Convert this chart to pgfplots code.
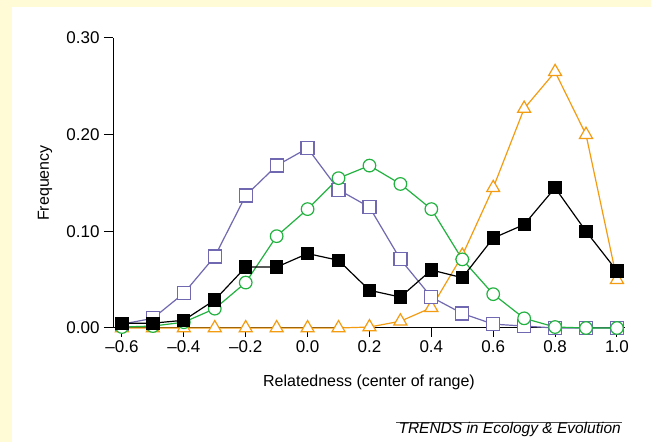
\documentclass[border=0pt]{standalone}
\usepackage{pgfplots}
\pgfplotsset{compat=1.18}
\usepackage{fontspec}
\setmainfont{Liberation Sans}
\definecolor{cream}{RGB}{255,251,214}
\definecolor{cpurple}{RGB}{112,104,176}
\definecolor{cgreen}{RGB}{34,178,64}
\definecolor{corange}{RGB}{243,156,18}
\begin{document}
\begin{tikzpicture}[x=1pt,y=1pt]
\useasboundingbox (0,0) rectangle (651,442);
\fill[white] (0,0) rectangle (651,442);
\fill[cream] (0,0) rectangle (12,442);
\fill[cream] (0,435) rectangle (651,442);
\begin{axis}[
  at={(113pt,114pt)}, anchor=south west,
  scale only axis, width=512pt, height=290pt,
  xmin=-0.629, xmax=1.026, ymin=0, ymax=0.30,
  axis lines=left, axis line style={-, line width=1pt, black},
  tick align=outside, major tick length=9pt,
  tick style={black, line width=1pt},
  xtick={-0.6,-0.4,-0.2,0,0.2,0.4,0.6,0.8,1.0},
  xticklabels={–0.6,–0.4,–0.2,0.0,0.2,0.4,0.6,0.8,1.0},
  ytick={0,0.1,0.2,0.3},
  yticklabels={0.00,0.10,0.20,0.30},
  tick label style={font=\fontsize{17}{20}\selectfont},
  yticklabel style={xshift=-1pt},
  label style={font=\fontsize{16}{19}\selectfont},
  xlabel={Relatedness (center of range)},
  ylabel={Frequency},
  xlabel style={at={(axis description cs:0.5,-0.1862)}, anchor=center},
  ylabel style={at={(axis description cs:-0.1328,0.5)}, anchor=center},
  clip=false,
]
\addplot[corange, line width=1.2pt, mark=triangle*, mark size=7.5pt,
  mark options={fill=white, line width=1.2pt}] coordinates {
(-0.6,0) (-0.5,0) (-0.4,0) (-0.3,0) (-0.2,0) (-0.1,0) (0.0,0) (0.1,0)
(0.2,0.001) (0.3,0.007) (0.4,0.021) (0.5,0.075) (0.6,0.145) (0.7,0.227)
(0.8,0.265) (0.9,0.200) (1.0,0.050)};
\addplot[cpurple, line width=1.2pt, mark=square*, mark size=6.5pt,
  mark options={fill=white, line width=1.2pt}] coordinates {
(-0.6,0.004) (-0.5,0.010) (-0.4,0.036) (-0.3,0.074) (-0.2,0.137) (-0.1,0.168)
(0.0,0.186) (0.1,0.143) (0.2,0.125) (0.3,0.071) (0.4,0.032) (0.5,0.015)
(0.6,0.004) (0.7,0.002) (0.8,0) (0.9,0) (1.0,0)};
\addplot[cgreen, line width=1.2pt, mark=*, mark size=6.3pt,
  mark options={fill=white, line width=1.2pt}] coordinates {
(-0.6,0.001) (-0.5,0.002) (-0.4,0.006) (-0.3,0.020) (-0.2,0.047) (-0.1,0.095)
(0.0,0.123) (0.1,0.155) (0.2,0.168) (0.3,0.149) (0.4,0.123) (0.5,0.071)
(0.6,0.035) (0.7,0.010) (0.8,0.001) (0.9,0) (1.0,0)};
\addplot[black, line width=1.2pt, mark=square*, mark size=6pt,
  mark options={fill=black}] coordinates {
(-0.6,0.005) (-0.5,0.005) (-0.4,0.008) (-0.3,0.029) (-0.2,0.063) (-0.1,0.063)
(0.0,0.077) (0.1,0.070) (0.2,0.039) (0.3,0.032) (0.4,0.060) (0.5,0.052)
(0.6,0.093) (0.7,0.107) (0.8,0.145) (0.9,0.100) (1.0,0.059)};
\end{axis}
\draw[line width=0.8pt, black!70] (396,19.3) -- (622,19.3);
\node[anchor=base east, inner sep=0pt, font=\fontsize{15.5}{18}\selectfont\itshape]
  at (621,9) {TRENDS in Ecology \& Evolution};
\end{tikzpicture}
\end{document}
